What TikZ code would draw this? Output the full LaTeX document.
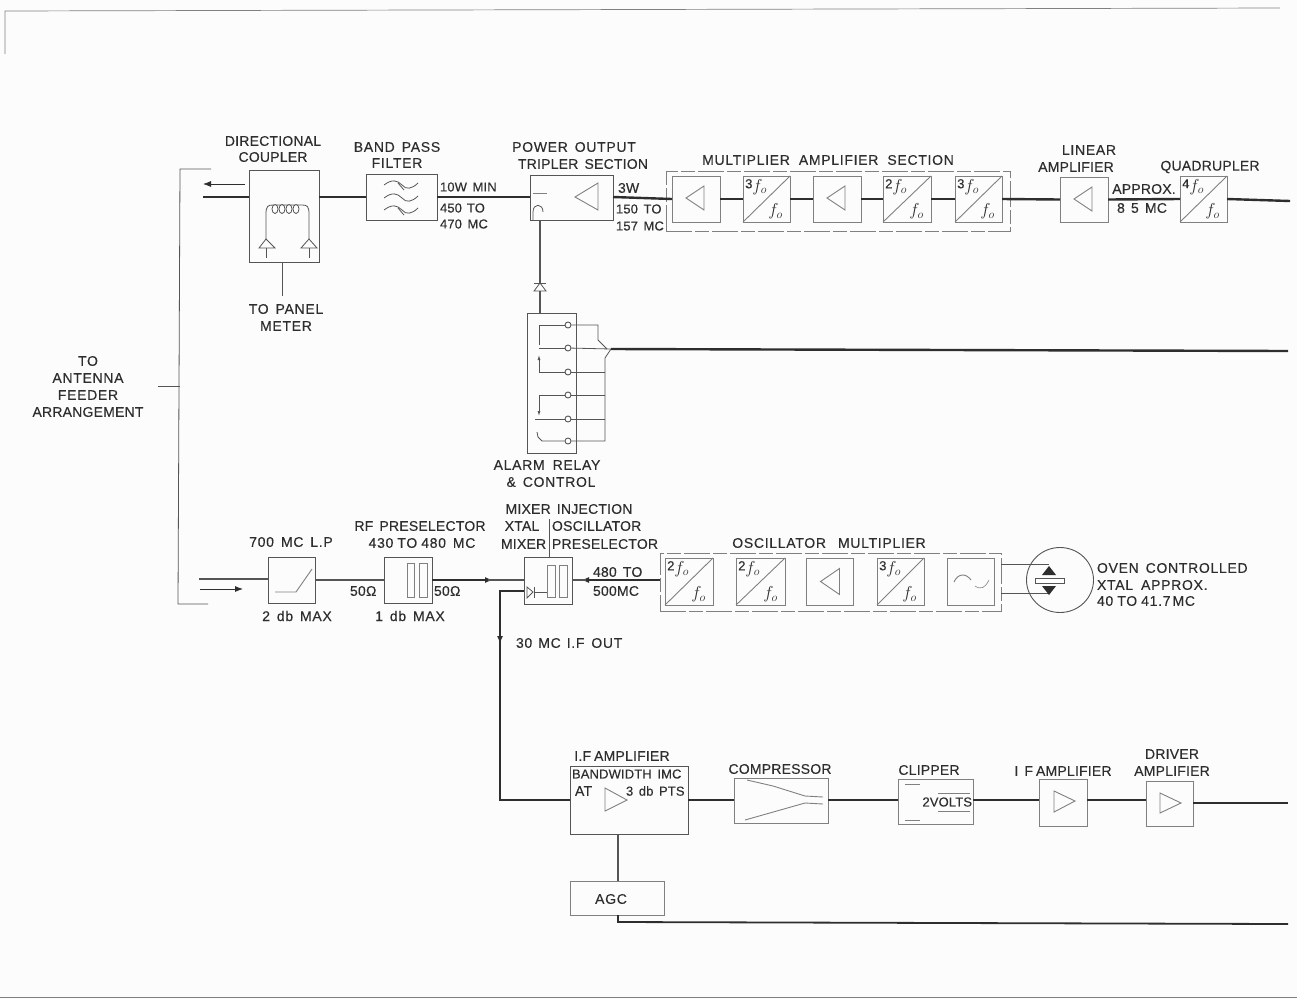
\documentclass[tikz,border=0pt]{standalone}
\usepackage{fontspec}
\setmainfont[LetterSpace=5,WordSpace=1.5,FakeBold=0.25]{Liberation Sans}
\newcommand{\tight}{\addfontfeature{LetterSpace=1.5}}
\newcommand{\tighter}{\fontsize{13}{14}\selectfont\addfontfeature{LetterSpace=1}}
\usetikzlibrary{arrows.meta,calc,shapes.geometric}
\definecolor{ink}{HTML}{2E2E2E}
\definecolor{mid}{HTML}{555555}
\definecolor{soft}{HTML}{808080}
\newcounter{labc}
\newcommand{\lab}[4][]{\stepcounter{labc}\node[lab,#1] (t\thelabc) at (#2,#3) {#4};}
\newcommand{\blk}[6][box]{\node[#1,minimum width={(#5-#3)*1pt},minimum height={(#6-#4)*1pt}] (#2) at ({(#3+#5)/2},{(#4+#6)/2}) {};}
% divider block: name, x1,y1,x2,y2, numerator
\newcommand{\dvd}[6]{\blk[softbox]{#1}{#2}{#3}{#4}{#5}
 \draw[softline] (#1.south west) -- (#1.north east);
 \node[frac,anchor=north west] (#1n) at ($(#1.north west)+(2,3)$) {{\fontsize{13}{14}\selectfont\raisebox{3pt}{#6}}$f_{o}$};
 \node[frac,anchor=south east] (#1d) at ($(#1.south east)+(-7,-3)$) {$f_{o}$};}
\newcommand{\tri}[7][softline]{\draw[#1] (#2,#3) -- (#4,#5) -- (#6,#7) -- cycle;}
\tikzset{
 x=1pt,y=-1pt,
 lab/.style={inner sep=0pt,outer sep=0pt,text=ink,font=\fontsize{14}{15}\selectfont},
 frac/.style={inner sep=0pt,text=ink,font=\fontsize{18}{19}\selectfont},
 box/.style={draw=mid,line width=.9pt,inner sep=0pt,outer sep=0pt,rectangle},
 softbox/.style={draw=soft,line width=.9pt,inner sep=0pt,outer sep=0pt,rectangle},
 groupbox/.style={draw=soft,line width=.8pt,dash pattern=on 26pt off 3pt on 14pt off 3pt,inner sep=0pt,outer sep=0pt,rectangle},
 thin line/.style={draw=mid,line width=.8pt},
 softline/.style={draw=soft,line width=.9pt},
 main/.style={draw=ink,line width=2.4pt},
 sig/.style={draw=mid,line width=1.5pt},
 tip/.style={-{Latex[length=8pt,width=6pt]},draw=ink},
}
\begin{document}
\begin{tikzpicture}
\useasboundingbox (0,0) rectangle (1297,999);
\fill[white!99!black] (0,0) rectangle (1297,999);
\draw[soft,line width=.7pt] (5,54) -- (5,11) -- (1280,8);
\draw[soft,line width=1pt] (0,997) -- (1297,997);

\coordinate (ytop) at (0,197);
\coordinate (ylow) at (0,580);
\coordinate (ymix) at (0,591);
\coordinate (yif) at (0,800);
\coordinate (yifb) at (0,803);

% Blocks, top row
\blk{coupler}{249}{170}{319}{262}
\blk{bpf}{366}{174}{437}{220}
\blk{power}{530}{175}{613}{220}
\blk[groupbox]{mgroup}{666}{171}{1010}{231}
\blk[softbox]{a1}{672}{176}{720}{222}
\dvd{d1}{743}{176}{790}{222}{3}
\blk[softbox]{a2}{813}{176}{861}{222}
\dvd{d2}{883}{176}{931}{222}{2}
\dvd{d3}{955}{176}{1002}{222}{3}
\blk[softbox]{lin}{1060}{177}{1108}{222}
\dvd{quad}{1180}{176}{1227}{222}{4}
\coordinate (topend) at (1290,201);

% Top row connectors
\coordinate (cleft) at (203,197);
\draw[main] (cleft) -- (coupler.west |- ytop);
\draw[main] (coupler.east |- ytop) -- (bpf.west |- ytop);
\draw[main] (bpf.east |- ytop) -- (power.west |- ytop);
\draw[main] (power.east |- ytop) -- (a1.west);
\draw[main] (a1.east) -- (d1.west);
\draw[main] (d1.east) -- (a2.west);
\draw[main] (a2.east) -- (d2.west);
\draw[main] (d2.east) -- (d3.west);
\draw[main] (d3.east) -- (lin.west);
\draw[main] (lin.east) -- (quad.west);
\draw[main] (quad.east) -- (topend);

% Feeder bracket
\coordinate (bt) at (211,169);
\coordinate (bb) at (208,604);
\coordinate (bl) at (180,386);
\coordinate (btick) at (158,386);
\draw[thin line] (bt) -- (180,169) -- (178,604) -- (bb);
\draw[thin line] (btick) -- (bl);
\coordinate (ar1) at (203,184);
\coordinate (ar2) at (245,184);
\draw[thin line,tip] (ar2) -- (ar1);

% Coupler inside
\draw[thin line] (266,240) -- (266,214) .. controls (266,206) and (268,205) .. (273,205) -- (302,205) .. controls (307,205) and (309,206) .. (309,214) -- (309,240);
\foreach \xc in {275,282,289,296} \draw[thin line,fill=white] (\xc,209) ellipse (3 and 4.5);
\tri[thin line]{259}{248}{266}{239}{275}{248}
\tri[thin line]{301}{248}{309}{239}{317}{248}
\draw[thin line] (266,248) -- (266,258);
\draw[thin line] (309,248) -- (309,258);
\coordinate (panel) at (282,296);
\draw[thin line] (coupler.south -| panel) -- (panel);

% Band-pass wiggles
\foreach \yy in {185,198,210}
 \draw[thin line] (384,\yy) .. controls (392,\yy-6) and (397,\yy-5) .. (402,\yy) .. controls (406,\yy+5) and (412,\yy+4) .. (418,\yy-2);
\draw[thin line] (398,183) -- (404,190);
\draw[thin line] (398,208) -- (404,215);

% Power inside
\tri{575}{197}{598}{183}{598}{210}
\draw[softline] (533,193) -- (547,193);
\draw[thin line] (533,220) -- (533,212) .. controls (533,203) and (543,203) .. (543,212);

% Relay
\blk{relay}{527}{313}{576}{453}
\coordinate (diodeb) at (540,291);
\coordinate (diodea) at (540,283);
\draw[sig] (power.south -| diodea) -- (diodea);
\draw[sig] (relay.north -| diodeb) -- (diodeb);
\tri[thin line]{534}{291}{540}{283}{546}{291}
\draw[thin line] (534,283) -- (546,283);

\foreach \n/\yy in {c1/325,c2/348,c3/372,c4/395,c5/419,c6/441}
 \node[draw=mid,circle,fill=white,line width=.9pt,minimum size=6pt,inner sep=0pt] (\n) at (568,\yy) {};
\draw[thin line] (c1) -- (539,325) -- (539,345);
\draw[thin line] (c2) -- (539,348);
\draw[thin line,-{Latex[length=5pt,width=3pt]}] (c3) -- (539,372) -- (539,355);
\draw[thin line,-{Latex[length=5pt,width=3pt]}] (c4) -- (539,395) -- (539,416);
\draw[thin line] (c5) -- (535,419);
\draw[thin line] (c6) -- (542,441) -- (538,437) -- (537,432);
\coordinate (alarm) at (1288,351);
\coordinate (j) at (611,349);
\draw[thin line] (c1) -- (598,325) -- (598,340) -- (607,349);
\draw[thin line] (c2) -- (j);
\draw[thin line] (c3) -- (605,372);
\draw[thin line] (c4) -- (605,395);
\draw[thin line] (c5) -- (605,419);
\draw[thin line] (c6) -- (605,441) -- (605,358) -- (j);
\draw[main] (j) -- (alarm);

% Second row blocks
\blk{lp}{268}{557}{315}{603}
\blk{pres}{384}{557}{432}{603}
\blk{mixer}{524}{557}{572}{604}
\blk[groupbox]{ogroup}{660}{553}{1001}{611}
\dvd{o1}{665}{558}{713}{605}{2}
\dvd{o2}{736}{558}{785}{605}{2}
\blk[softbox]{o3}{806}{558}{853}{605}
\dvd{o4}{877}{558}{924}{605}{3}
\blk[softbox]{o5}{947}{558}{994}{605}
\node[draw=mid,line width=.9pt,ellipse,minimum width=67pt,minimum height=65pt,inner sep=0pt] (oven) at (1060,580) {};

% Second row connectors
\coordinate (rxleft) at (199,579);
\draw[sig] (rxleft) -- (lp.west |- rxleft);
\coordinate (rx1) at (200,589);
\coordinate (rx2) at (243,589);
\draw[thin line,tip] (rx1) -- (rx2);
\draw[sig] (lp.east |- ylow) -- (pres.west |- ylow);
\coordinate (m1) at (493,580);
\coordinate (m1b) at (488,580);
\draw[sig,tip] (pres.east |- ylow) -- (m1);
\draw[sig] (m1b) -- (mixer.west |- ylow);
\coordinate (m2) at (581,580);
\coordinate (m2b) at (586,580);
\draw[sig,tip] (ogroup.west |- ylow) -- (m2);
\draw[sig] (m2b) -- (mixer.east |- ylow);

% LP and filters inside
\draw[softline] (275,592) -- (296,592) -- (312,569);
\draw[softline] (407,563) rectangle (414,597);
\draw[softline] (419,563) rectangle (427,597);
\draw[softline] (547,565) rectangle (555,597);
\draw[softline] (559,565) rectangle (567,597);
\tri[thin line]{527}{587}{533}{592}{527}{598}
\draw[thin line] (534,587) -- (534,598);
\draw[thin line] (534,592) -- (547,592);
\coordinate (mixtop) at (549,519);
\draw[thin line] (mixer.north -| mixtop) -- (mixtop);

% Oven
\coordinate (ovt) at (1049,564);
\coordinate (ovb) at (1049,593);
\draw[thin line] (ogroup.east |- ovt) -- (ovt);
\draw[thin line] (ogroup.east |- ovb) -- (ovb);
\draw[thin line,fill=white] (1035,578) rectangle (1064,583);
\fill[ink] (1042,575) -- (1049,566) -- (1056,575) -- cycle;
\fill[ink] (1042,586) -- (1049,595) -- (1056,586) -- cycle;
\draw[softline] (o3.center) ++(-9,0) -- ++(19,-13) -- ++(0,26) -- cycle;
\draw[softline] (954,582) .. controls (958,573) and (966,573) .. (971,580);
\draw[soft,line width=.6pt] (975,586) .. controls (981,590) and (985,588) .. (989,580);

% Third row blocks
\blk{ifa}{570}{766}{688}{834}
\blk[softbox]{comp}{734}{778}{828}{823}
\blk[softbox]{clip}{898}{779}{973}{824}
\blk[softbox]{ifb}{1039}{779}{1087}{826}
\blk[softbox]{drv}{1146}{781}{1193}{826}
\blk[softbox]{agc}{570}{881}{664}{915}
\coordinate (bend) at (500,591);
\coordinate (ifout) at (500,644);
\coordinate (ifoutb) at (500,638);
\coordinate (ifin) at (500,800);
\coordinate (ifend) at (1288,803);
\coordinate (agcend) at (1288,924);
\coordinate (fb) at (618,834);
\draw[main,line width=2pt,-{Latex[length=8pt,width=6pt]}] (mixer.west |- ymix) -- (bend) -- (ifout);
\draw[main,line width=2pt] (ifoutb) -- (ifin) -- (ifa.west |- ifin);
\draw[main] (ifa.east |- yif) -- (comp.west |- yif);
\draw[main] (comp.east |- yif) -- (clip.west |- yif);
\draw[main] (clip.east |- yif) -- (ifb.west |- yif);
\draw[main] (ifb.east |- yif) -- (drv.west |- yif);
\draw[main] (drv.east |- yifb) -- (ifend);
\draw[sig,line width=1.7pt] (fb) -- (agc.north -| fb);
\draw[main,line width=1.8pt] (agc.south -| fb) -- (618,922) -- (agcend);

% Third row inside
\tri{605}{788}{605}{811}{627}{800}
\draw[softline] (747,780) -- (773,786) -- (805,796) -- (823,797);
\draw[softline] (745,820) -- (805,803) -- (823,804);
\draw[softline] (905,784) -- (920,784);
\draw[softline] (905,820) -- (920,820);
\draw[softline] (938,793) -- (970,793);
\draw[softline] (938,811) -- (970,811);
\tri{1054}{791}{1054}{812}{1075}{801}
\tri{1160}{793}{1160}{813}{1181}{803}

% Amplifier triangles in the top row
\tri{686}{198}{704}{186}{704}{210}
\tri{827}{198}{845}{186}{845}{210}
\tri{1074}{199}{1092}{187}{1092}{211}

% Labels
\lab{88}{361}{TO}
\lab{88}{378}{ANTENNA}
\lab{88}{395}{FEEDER}
\lab{88}{412}{\tight ARRANGEMENT}
\lab{273}{141}{\tight DIRECTIONAL}
\lab{273}{157}{\tight COUPLER}
\lab{286}{309}{TO PANEL}
\lab{286}{326}{METER}
\lab{397}{147}{BAND\hspace{7pt}PASS}
\lab{397}{163}{FILTER}
\lab{574}{147}{POWER OUTPUT}
\lab{583}{164}{\tight TRIPLER SECTION}
\lab[anchor=west]{440}{187}{\tighter 10W MIN}
\lab[anchor=west]{440}{208}{\tighter 450\hspace{5pt}TO}
\lab[anchor=west]{440}{224}{\tighter 470 MC}
\lab[anchor=west]{618}{188}{\tight 3W}
\lab[anchor=west]{616}{209}{\tighter 150 TO}
\lab[anchor=west]{616}{226}{\tighter 157 MC}
\lab{828}{160}{MULTIPLIER\hspace{9pt}AMPLIFIER\hspace{9pt}SECTION}
\lab{1089}{150}{LINEAR}
\lab{1076}{167}{\tight AMPLIFIER}
\lab{1210}{167}{\tight QUADRUPLER}
\lab{1144}{189}{\tight APPROX.}
\lab{1142}{208}{\tight 8 5 MC}
\lab{547}{465}{ALARM\hspace{8pt}RELAY}
\lab{551}{482}{\& CONTROL}
\lab{291}{542}{700\hspace{7pt}MC L.P}
\lab{420}{526}{\tight RF PRESELECTOR}
\lab{422}{543}{430\hspace{4pt}TO\hspace{4pt}480 MC}
\lab{297}{616}{2 db MAX}
\lab{410}{616}{1 db MAX}
\lab[anchor=west]{350}{591}{\tight 50Ω}
\lab[anchor=west]{434}{591}{\tight 50Ω}
\lab{569}{509}{\tight MIXER INJECTION}
\lab{522}{526}{\tight XTAL}
\lab[anchor=west]{552}{526}{\tight OSCILLATOR}
\lab[anchor=west]{501}{544}{\tight MIXER}
\lab[anchor=west]{552}{544}{\tight PRESELECTOR}
\lab[anchor=west]{593}{572}{\tight 480 TO}
\lab[anchor=west]{593}{591}{\tight 500MC}
\lab[anchor=west]{516}{643}{30\hspace{6pt}MC\hspace{6pt}I.F OUT}
\lab{829}{543}{OSCILLATOR\hspace{12pt}MULTIPLIER}
\lab[anchor=west]{1097}{568}{OVEN CONTROLLED}
\lab[anchor=west]{1097}{585}{XTAL\hspace{8pt}APPROX.}
\lab[anchor=west]{1097}{601}{40\hspace{4pt}TO\hspace{4pt}41.7\hspace{2pt}MC}
\lab{622}{756}{\tight I.F\hspace{3pt}AMPLIFIER}
\lab[anchor=west]{572}{774}{\tighter BANDWIDTH IMC}
\lab[anchor=west]{575}{791}{\tight AT}
\lab[anchor=west]{626}{791}{\tighter 3 db PTS}
\lab{780}{769}{\tight COMPRESSOR}
\lab{611}{899}{AGC}
\lab{929}{770}{\tight CLIPPER}
\lab[anchor=east]{972}{802}{\tighter 2VOLTS}
\lab{1063}{771}{\tight I F\hspace{3pt}AMPLIFIER}
\lab{1172}{754}{\tight DRIVER}
\lab{1172}{771}{\tight AMPLIFIER}
\end{tikzpicture}
\end{document}
